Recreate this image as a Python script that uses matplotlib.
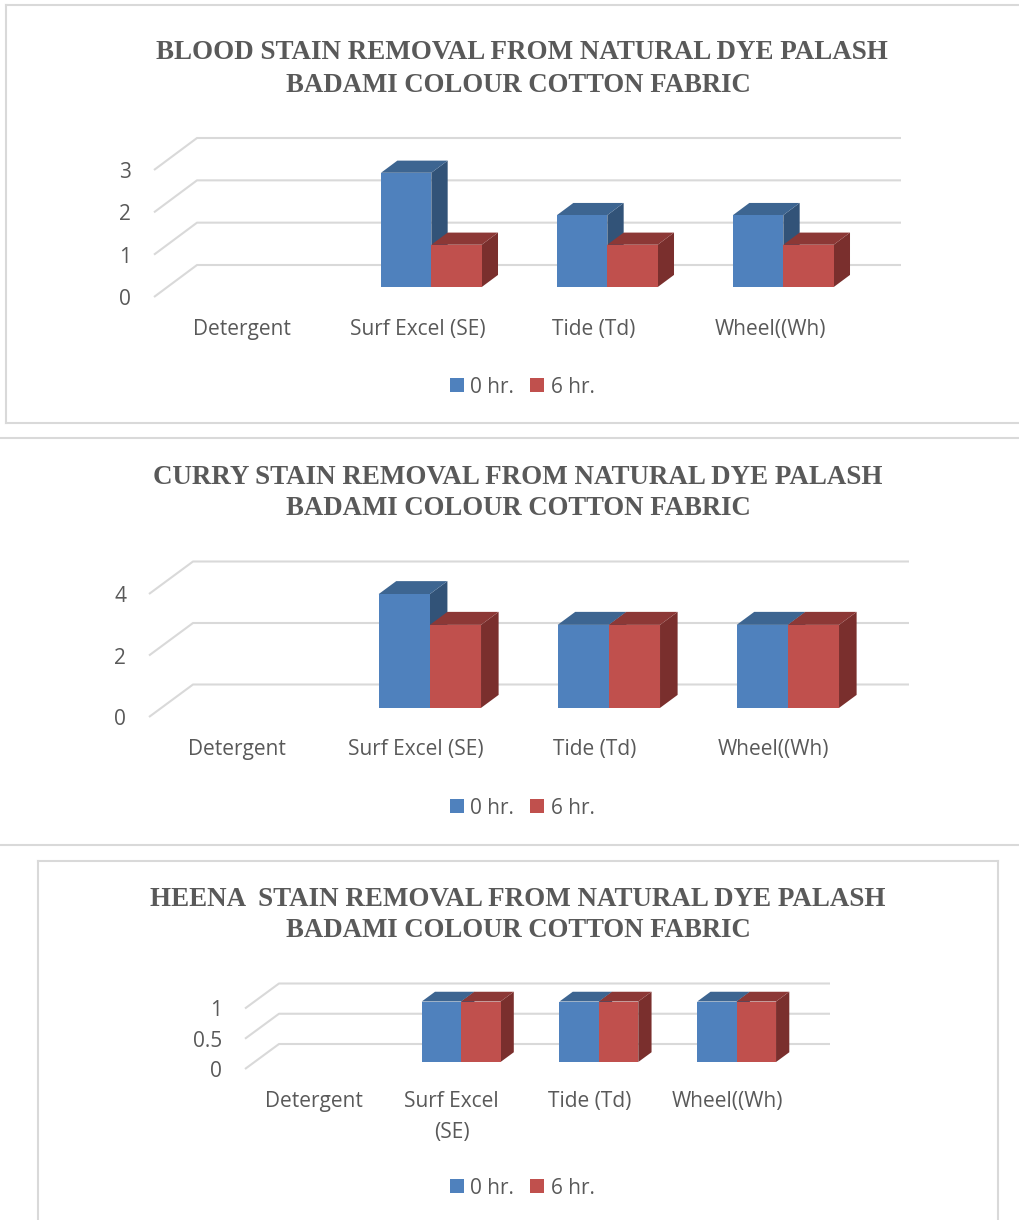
import matplotlib
matplotlib.use('Agg')
import matplotlib.pyplot as plt
from matplotlib.patches import Polygon

# Data
categories = ['Detergent', 'Surf Excel (SE)', 'Tide (Td)', 'Wheel((Wh)']
categories_wrapped = ['Detergent', 'Surf Excel\n(SE)', 'Tide (Td)', 'Wheel((Wh)']

blood_0hr = [0, 2.7, 1.7, 1.7]
blood_6hr = [0, 1, 1, 1]
blood_ticks = [0, 1, 2, 3]
blood_ticklabels = ['0', '1', '2', '3']

curry_0hr = [0, 3.7, 2.7, 2.7]
curry_6hr = [0, 2.7, 2.7, 2.7]
curry_ticks = [0, 2, 4]
curry_ticklabels = ['0', '2', '4']

heena_0hr = [0, 1, 1, 1]
heena_6hr = [0, 1, 1, 1]
heena_ticks = [0, 0.5, 1]
heena_ticklabels = ['0', '0.5', '1']

W, H = 1019, 1220
GREY = '#595959'
LINE = '#D9D9D9'
BLUE = ('#4F81BD', '#3D6591', '#325378')   # front, top, side
RED = ('#C0504D', '#8C3836', '#7A2F2D')
BAR_W = 0.286

fig = plt.figure(figsize=(W / 100, H / 100), dpi=100)


def frame_line(x0, y0, x1, y1):
    fig.add_artist(plt.Line2D([x0 / W, x1 / W], [1 - y0 / H, 1 - y1 / H],
                              color=LINE, lw=1.5))


def draw_bar(ax, x, val, dx, dy, span, colors, z):
    # dx, dy: size of the full floor depth in data units
    front, back = span
    x0 = x + front * dx
    x1 = x0 + BAR_W
    y0 = front * dy
    y1 = y0 + val
    bx = (back - front) * dx
    by = (back - front) * dy
    ax.add_patch(Polygon([(x1, y0), (x1 + bx, y0 + by), (x1 + bx, y1 + by), (x1, y1)],
                         fc=colors[2], ec='none', zorder=z, clip_on=False))
    ax.add_patch(Polygon([(x0, y1), (x1, y1), (x1 + bx, y1 + by), (x0 + bx, y1 + by)],
                         fc=colors[1], ec='none', zorder=z + 1, clip_on=False))
    return ax.bar(x0, val, BAR_W, bottom=y0, align='edge', color=colors[0],
                  zorder=z + 2, clip_on=False)


def draw_chart(box, depth, span, ymax, ticks, ticklabels, labels, s0, s6, title, legend_y,
               label_shift=0):
    left, right, top, bottom = box
    ax = fig.add_axes([left / W, 1 - bottom / H, (right - left) / W, (bottom - top) / H])
    ax.set_xlim(-0.5, 3.5)
    ax.set_ylim(0, ymax)
    dx = depth[0] / ((right - left) / 4)
    dy = depth[1] / ((bottom - top) / ymax)
    for s in ax.spines.values():
        s.set_visible(False)
    ax.patch.set_alpha(0)

    for t in ticks:
        ax.plot([-0.5, -0.5 + dx, 3.5 + dx], [t, t + dy, t + dy], color=LINE, lw=1.5,
                clip_on=False, zorder=1, solid_capstyle='butt')

    z = 3
    h0 = h6 = None
    for i in range(len(labels)):
        x = i - BAR_W
        if s0[i] > 0:
            h0 = draw_bar(ax, x, s0[i], dx, dy, span, BLUE, z)
        if s6[i] > 0:
            h6 = draw_bar(ax, x + BAR_W, s6[i], dx, dy, span, RED, z + 3)
        z += 6

    ax.set_xticks([i + label_shift for i in range(len(labels))])
    ax.set_xticklabels(labels)
    ax.set_yticks(ticks)
    ax.set_yticklabels(ticklabels)
    ax.tick_params(axis='x', length=0, pad=16, labelsize=15, labelcolor=GREY)
    ax.tick_params(axis='y', length=0, pad=16.5, labelsize=15, labelcolor=GREY)
    for lab in ax.get_xticklabels() + ax.get_yticklabels():
        lab.set_family('Open Sans')
        lab.set_linespacing(1.6)

    for text, cx, cy, size in title:
        fig.text(cx / W, 1 - cy / H, text, ha='center', va='center', color=GREY,
                 family='Liberation Serif', weight='bold', fontsize=size)

    fig.legend([h0, h6], ['0 hr.', '6 hr.'], loc='center', ncol=2,
               bbox_to_anchor=(522 / W, 1 - legend_y / H), frameon=False,
               handlelength=0.67, handleheight=0.67, handletextpad=0.3,
               columnspacing=0.8, borderpad=0, labelcolor=GREY,
               prop={'family': 'Open Sans', 'size': 15})


# Frames around the charts
frame_line(5.5, 5, 1019, 5)
frame_line(5.5, 5, 5.5, 423)
frame_line(5.5, 423, 1019, 423)
frame_line(0, 438, 1019, 438)
frame_line(0, 845, 1019, 845)
frame_line(38, 861, 998, 861)
frame_line(38, 861, 38, 1220)
frame_line(998, 861, 998, 1220)

draw_chart((154, 858, 170, 297), (43, 32), (0.31, 0.69), 3, blood_ticks, blood_ticklabels,
           categories, blood_0hr, blood_6hr,
           [('BLOOD STAIN REMOVAL FROM NATURAL DYE PALASH', 522, 52.5, 19.47),
            ('BADAMI COLOUR COTTON FABRIC', 518, 85, 19.27)], 387)
draw_chart((149, 865, 594, 717), (44, 32.5), (0.28, 0.68), 4, curry_ticks, curry_ticklabels,
           categories, curry_0hr, curry_6hr,
           [('CURRY STAIN REMOVAL FROM NATURAL DYE PALASH', 518, 477.5, 19.47),
            ('BADAMI COLOUR COTTON FABRIC', 518, 508.5, 19.27)], 808, label_shift=-0.011)
draw_chart((245, 796, 1008.5, 1069), (34, 25), (0.28, 0.67), 1, heena_ticks, heena_ticklabels,
           categories_wrapped, heena_0hr, heena_6hr,
           [('HEENA  STAIN REMOVAL FROM NATURAL DYE PALASH', 518, 899.5, 19.47),
            ('BADAMI COLOUR COTTON FABRIC', 518, 930.5, 19.27)], 1188)

fig.savefig('out.png', dpi=100)
